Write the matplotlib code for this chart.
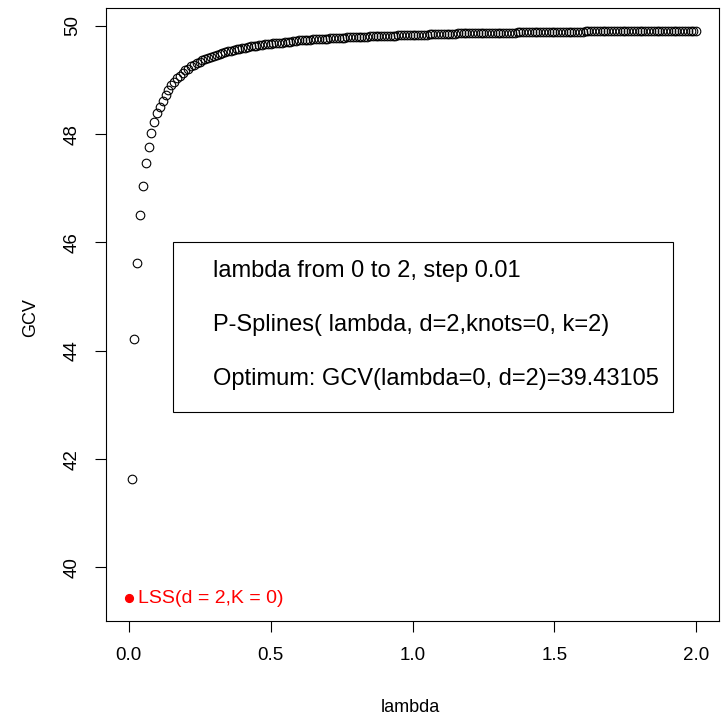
import numpy as np
import matplotlib
matplotlib.use("Agg")
import matplotlib.pyplot as plt

plt.rcParams['font.family'] = ['Liberation Sans', 'DejaVu Sans']

# lambda grid: 0 to 2, step 0.01 (as stated in the chart)
lam = np.round(np.arange(0, 201) * 0.01, 2)

gcv_opt = 39.43105  # value at lambda = 0 (red point)

gcv_rest = [
    41.64, 44.22, 45.62, 46.50, 47.05, 47.46, 47.77, 48.03, 48.23, 48.40,  # 0.01-0.10
    48.50, 48.62, 48.73, 48.82, 48.90, 48.97, 49.03, 49.08, 49.13, 49.18,  # 0.11-0.20
    49.21, 49.25, 49.28, 49.31, 49.34, 49.37, 49.39, 49.41, 49.43, 49.45,  # 0.21-0.30
    49.47, 49.48, 49.50, 49.51, 49.53, 49.54, 49.55, 49.57, 49.58, 49.59,  # 0.31-0.40
    49.60, 49.61, 49.62, 49.62, 49.63, 49.64, 49.65, 49.66, 49.66, 49.67,  # 0.41-0.50
    49.68, 49.68, 49.69, 49.69, 49.70, 49.71, 49.71, 49.72, 49.72, 49.73,  # 0.51-0.60
    49.73, 49.73, 49.74, 49.74, 49.75, 49.75, 49.75, 49.76, 49.76, 49.76,  # 0.61-0.70
    49.77, 49.77, 49.77, 49.78, 49.78, 49.78, 49.79, 49.79, 49.79, 49.79,  # 0.71-0.80
    49.80, 49.80, 49.80, 49.80, 49.81, 49.81, 49.81, 49.81, 49.81, 49.82,  # 0.81-0.90
    49.82, 49.82, 49.82, 49.82, 49.83, 49.83, 49.83, 49.83, 49.83, 49.84,  # 0.91-1.00
    49.84, 49.84, 49.84, 49.84, 49.84, 49.85, 49.85, 49.85, 49.85, 49.85,  # 1.01-1.10
    49.85, 49.85, 49.85, 49.85, 49.85, 49.86, 49.86, 49.86, 49.86, 49.86,  # 1.11-1.20
    49.86, 49.86, 49.86, 49.86, 49.86, 49.86, 49.87, 49.87, 49.87, 49.87,  # 1.21-1.30
    49.87, 49.87, 49.87, 49.87, 49.87, 49.87, 49.88, 49.88, 49.88, 49.88,  # 1.31-1.40
    49.88, 49.88, 49.88, 49.88, 49.88, 49.88, 49.88, 49.88, 49.88, 49.88,  # 1.41-1.50
    49.89, 49.89, 49.89, 49.89, 49.89, 49.89, 49.89, 49.89, 49.89, 49.89,  # 1.51-1.60
    49.90, 49.90, 49.90, 49.90, 49.90, 49.90, 49.90, 49.90, 49.90, 49.90,  # 1.61-1.70
    49.90, 49.90, 49.90, 49.90, 49.90, 49.90, 49.90, 49.90, 49.90, 49.90,  # 1.71-1.80
    49.91, 49.91, 49.91, 49.91, 49.91, 49.91, 49.91, 49.91, 49.91, 49.91,  # 1.81-1.90
    49.91, 49.91, 49.91, 49.91, 49.91, 49.91, 49.91, 49.91, 49.91, 49.91,  # 1.91-2.00
]

xticks = [0.0, 0.5, 1.0, 1.5, 2.0]
xticklabels = ["0.0", "0.5", "1.0", "1.5", "2.0"]
yticks = [40, 42, 44, 46, 48, 50]
yticklabels = ["40", "42", "44", "46", "48", "50"]

info_lines = [
    "lambda from 0 to 2, step 0.01",
    "P-Splines( lambda, d=2,knots=0, k=2)",
    "Optimum: GCV(lambda=0, d=2)=39.43105",
]
lss_label = "LSS(d = 2,K = 0)"

W, H = 727, 717
L, R, T, B = 106, 719, 8, 621
fig = plt.figure(figsize=(W / 100, H / 100), dpi=100)
ax = fig.add_axes([L / W, (H - B) / H, (R - L) / W, (B - T) / H])

ax.plot(lam[1:], gcv_rest, linestyle='none', marker='o', markersize=6.2,
        markerfacecolor='none', markeredgecolor='black', markeredgewidth=0.8)
ax.plot([lam[0]], [gcv_opt], linestyle='none', marker='o', markersize=5.6,
        color='#FF0000')
ax.annotate(lss_label, xy=(lam[0], gcv_opt), xytext=(6.5, 0),
            textcoords='offset points', va='center', ha='left',
            color='#FF0000', fontsize=14)

ax.set_xlim(-0.08, 2.08)
ax.set_ylim(39.01, 50.33)
ax.set_xticks(xticks)
ax.set_xticklabels(xticklabels)
ax.set_yticks(yticks)
ax.set_yticklabels(yticklabels, rotation=90, va='center')
ax.tick_params(axis='both', direction='out', length=8, width=0.8,
               labelsize=13.5)
ax.tick_params(axis='x', pad=11)
ax.tick_params(axis='y', pad=10)
for s in ax.spines.values():
    s.set_linewidth(0.8)

fig.text(410 / W, 1 - 707 / H, "lambda", ha='center', va='center', fontsize=13)
fig.text(31 / W, 1 - 318 / H, "GCV", ha='center', va='center', fontsize=13,
         rotation=90)

# info box (positions in axes fraction from pixel layout)
bx0 = (173 - L) / (R - L)
bx1 = (673 - L) / (R - L)
by0 = (B - 412) / (B - T)
by1 = (B - 242) / (B - T)
rect = plt.Rectangle((bx0, by0), bx1 - bx0, by1 - by0, transform=ax.transAxes,
                     fill=False, edgecolor='black', linewidth=0.8)
ax.add_patch(rect)
tx = (213 - L) / (R - L)
for line, ypx in zip(info_lines, [271, 325, 379]):
    ax.text(tx, (B - ypx) / (B - T), line, transform=ax.transAxes,
            ha='left', va='center', fontsize=17)

fig.savefig("out.png", dpi=100)
